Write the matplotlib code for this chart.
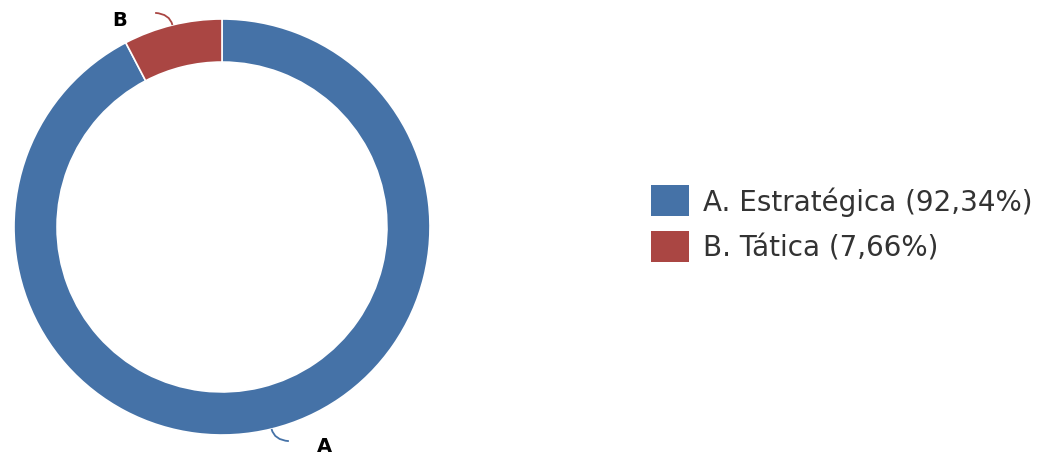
import numpy as np
import matplotlib
matplotlib.use("Agg")
import matplotlib.pyplot as plt
from matplotlib.patches import Rectangle, PathPatch
from matplotlib.path import Path

letters = ["A", "B"]
names = ["Estratégica", "Tática"]
shares = [92.34, 7.66]
colors = ["#4572A7", "#AA4643"]

W, H = 1054, 460
fig = plt.figure(figsize=(W / 100, H / 100), dpi=100)

# donut axes, centre (222, 228) px, radius 208 px
cx, cy, r = 222, 228, 208
ax = fig.add_axes([(cx - r) / W, (H - cy - r) / H, 2 * r / W, 2 * r / H])

wedges, _ = ax.pie(shares, colors=colors, startangle=90, counterclock=False,
                   radius=1.0, wedgeprops=dict(width=0.207, edgecolor="white", linewidth=1.2))
ax.set_xlim(-1, 1)
ax.set_ylim(-1, 1)
ax.set_aspect("equal")
ax.axis("off")

# data labels with soft connectors
cum = np.cumsum([0] + shares[:-1])
for i, (lt, s) in enumerate(zip(letters, shares)):
    mid = (cum[i] + s / 2) / 100 * 2 * np.pi  # clockwise from top
    dx, dy = np.sin(mid), np.cos(mid)
    side = 1 if dx >= 0 else -1
    p0 = (dx, dy)
    pc = (dx * 1.055, dy * 1.055)
    p1 = (dx * 1.055 + side * 0.07, dy * 1.06)
    path = Path([p0, pc, p1], [Path.MOVETO, Path.CURVE3, Path.CURVE3])
    ax.add_patch(PathPatch(path, fill=False, edgecolor=colors[i], linewidth=1.3, clip_on=False))
    lx = p1[0] + side * 0.17
    ly = p1[1] + (-0.02 if dy < 0 else -0.03)
    ax.text(lx, ly, lt, ha="center", va="center", fontsize=14, fontweight="bold",
            color="black", clip_on=False)

# legend
for i, (lt, nm, s) in enumerate(zip(letters, names, shares)):
    ytop = 186 + i * 46
    fig.patches.append(Rectangle((651 / W, (H - ytop - 31) / H), 38 / W, 31 / H,
                                 transform=fig.transFigure, facecolor=colors[i],
                                 edgecolor="none"))
    label = f"{lt}. {nm} (" + f"{s:.2f}".replace(".", ",") + "%)"
    fig.text(703 / W, (H - ytop - 16) / H, label, ha="left", va="center",
             fontsize=20, color="#333333")

fig.savefig("out.png", dpi=100)
